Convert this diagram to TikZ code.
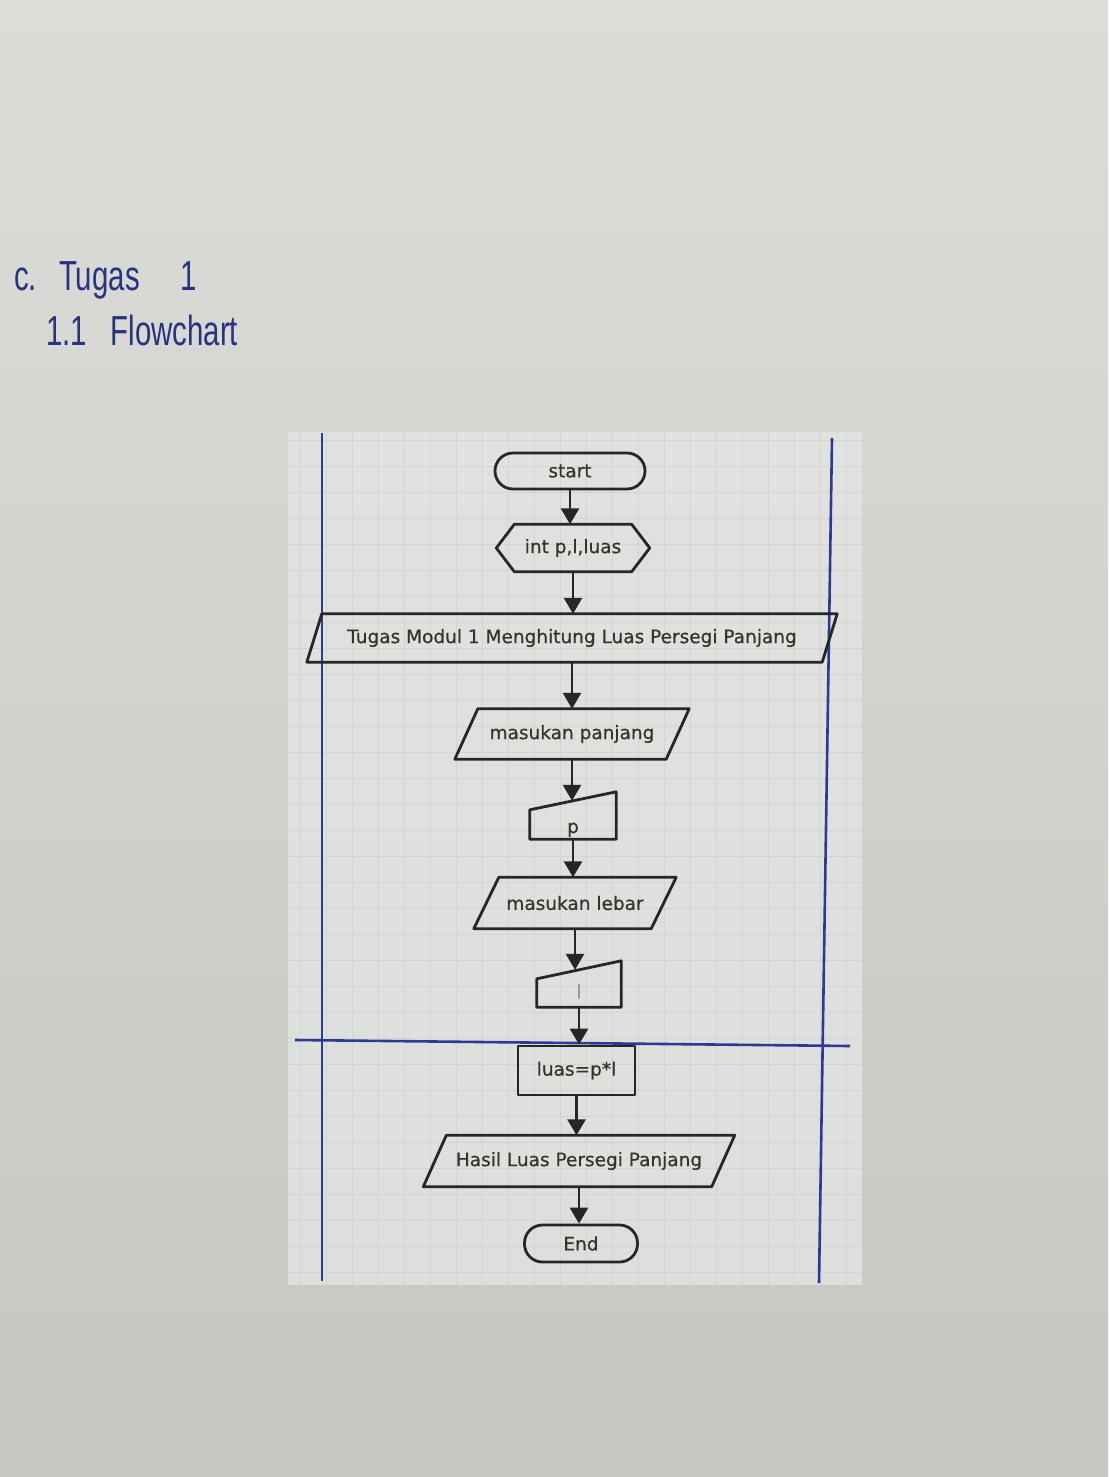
\documentclass[tikz,border=0pt]{standalone}
\usepackage{fontspec}
\setmainfont{DejaVu Sans}
\newfontfamily\flowfont[FakeBold=0.6]{DejaVu Sans}
\newfontfamily\handfont{Liberation Sans}
\usetikzlibrary{arrows.meta,calc}
\definecolor{bgt}{HTML}{DCDDD9}
\definecolor{bgb}{HTML}{C6C7C2}
\definecolor{sheet}{HTML}{E3E5E3}
\definecolor{gridc}{HTML}{D2D5D3}
\definecolor{ink}{HTML}{2C3A94}
\definecolor{hand}{HTML}{26347E}
\definecolor{ln}{HTML}{262626}
\definecolor{tx}{HTML}{35332C}
\begin{document}
\begin{tikzpicture}[x=1pt,y=-1pt,
  shp/.style={draw=ln, line width=2.8pt, line join=round},
  txt/.style={inner sep=0pt, font=\flowfont\fontsize{18.5}{21}\selectfont, text=tx},
  arr/.style={draw=ln, line width=2.8pt, -{Triangle[width=18pt,length=16pt]}},
  bl/.style={draw=ink, line width=2.6pt},
  hw/.style={inner sep=0pt, text=hand, font=\handfont\fontsize{42}{44}\selectfont},
]
\useasboundingbox (0,0) rectangle (1108,1477);
\fill[top color=bgt, bottom color=bgb] (0,0) rectangle (1108,1477);
% printed sheet with faint grid
\fill[sheet, opacity=0.8] (288,432) rectangle (862,1285);
\foreach \x in {300,326,...,860} \draw[gridc, line width=0.5pt] (\x,432) -- (\x,1285);
\foreach \y in {440,466,...,1285} \draw[gridc, line width=0.5pt] (288,\y) -- (862,\y);
% notebook ruling (blue ink)
\draw[bl] (322,433) -- (322,1281);
\draw[bl] (832,438) -- (819,1283);
\draw[bl] (295,1040) -- (850,1046);
% handwritten heading
\node[hw, anchor=base west] (h1) at (14,290) {\scalebox{0.7}[1]{c.\hspace{0.75em}Tugas\hspace{1.4em}1}};
\node[hw, anchor=base west] (h2) at (46,345) {\scalebox{0.7}[1]{1.1\hspace{0.8em}Flowchart}};

% start
\node[txt, shp, minimum width=150pt, minimum height=36pt, rounded corners=18pt] (start) at (570,471) {start};
% preparation
\node[txt, minimum width=153pt, minimum height=47pt] (int) at (573,548) {int p,l,luas};
\draw[shp] ([xshift=18pt]int.north west) -- ([xshift=-18pt]int.north east) -- (int.east)
  -- ([xshift=-18pt]int.south east) -- ([xshift=18pt]int.south west) -- (int.west) -- cycle;
% title parallelogram
\node[txt, minimum width=515pt, minimum height=48pt] (judul) at (572,638) {Tugas Modul 1 Menghitung Luas Persegi Panjang};
\draw[shp] ([xshift=7.5pt]judul.north west) -- ([xshift=7.5pt]judul.north east)
  -- ([xshift=-7.5pt]judul.south east) -- ([xshift=-7.5pt]judul.south west) -- cycle;
% masukan panjang
\node[txt, minimum width=211pt, minimum height=50pt] (mp) at (572,734) {masukan panjang};
\draw[shp] ([xshift=11.5pt]mp.north west) -- ([xshift=11.5pt]mp.north east)
  -- ([xshift=-11.5pt]mp.south east) -- ([xshift=-11.5pt]mp.south west) -- cycle;
% manual input p
\node[txt, minimum width=86pt, minimum height=38pt, text height=26pt, text depth=0pt] (p) at (573,820) {p};
\draw[shp] ([yshift=-9pt]p.north west) -- ([yshift=9pt]p.north east) -- (p.south east) -- (p.south west) -- cycle;
% masukan lebar
\node[txt, minimum width=177pt, minimum height=51pt] (ml) at (575,903) {masukan lebar};
\draw[shp] ([xshift=12.5pt]ml.north west) -- ([xshift=12.5pt]ml.north east)
  -- ([xshift=-12.5pt]ml.south east) -- ([xshift=-12.5pt]ml.south west) -- cycle;
% manual input l
\node[txt, text=black!40, minimum width=84pt, minimum height=37pt, text height=20pt, text depth=0pt] (l) at (579,988.5) {l};
\draw[shp] ([yshift=-9pt]l.north west) -- ([yshift=9pt]l.north east) -- (l.south east) -- (l.south west) -- cycle;
% process
\node[txt, shp, minimum width=117pt, minimum height=49pt] (luas) at (576.5,1070.5) {luas=p*l};
% output
\node[txt, minimum width=288pt, minimum height=51pt] (hasil) at (579,1161) {Hasil Luas Persegi Panjang};
\draw[shp] ([xshift=11.5pt]hasil.north west) -- ([xshift=11.5pt]hasil.north east)
  -- ([xshift=-11.5pt]hasil.south east) -- ([xshift=-11.5pt]hasil.south west) -- cycle;
% end
\node[txt, shp, minimum width=113pt, minimum height=37pt, rounded corners=18pt] (end) at (581,1243.5) {End};

% connectors
\draw[arr] (start.south) -- (start.south |- int.north);
\draw[arr] (int.south) -- (int.south |- judul.north);
\draw[arr] (judul.south) -- (judul.south |- mp.north);
\draw[arr] (mp.south) -- (mp.south |- p.north);
\draw[arr] (p.south) -- (p.south |- ml.north);
\draw[arr] (ml.south) -- (ml.south |- l.north);
\draw[arr] (l.south) -- (l.south |- luas.north);
\draw[arr] (luas.south) -- (luas.south |- hasil.north);
\draw[arr] (hasil.south) -- (hasil.south |- end.north);
\end{tikzpicture}
\end{document}
